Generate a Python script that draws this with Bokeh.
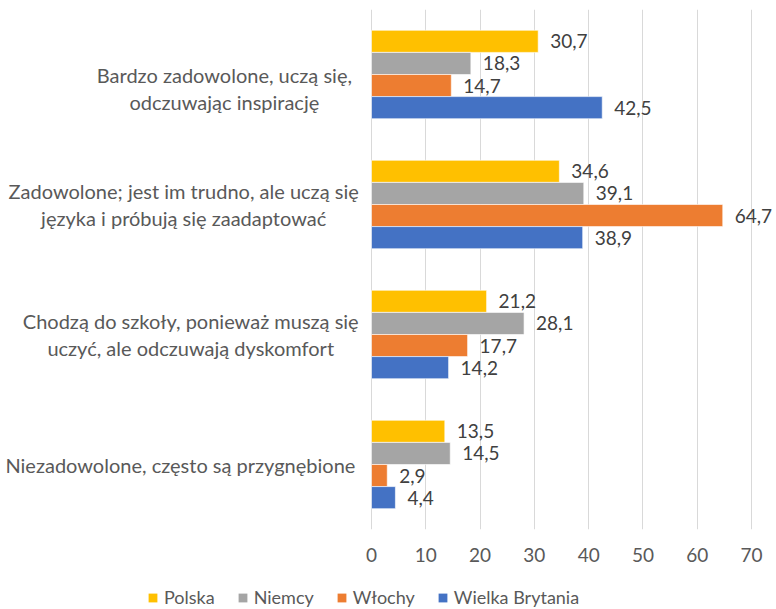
from bokeh.plotting import figure
from bokeh.layouts import column
from bokeh.models import ColumnDataSource, Legend, LegendItem, FixedTicker
from bokeh.core.properties import value
from bokeh.embed import file_html
from bokeh.resources import INLINE

categories = [
    "Bardzo zadowolone, uczą się,\nodczuwając inspirację",
    "Zadowolone; jest im trudno, ale uczą się\njęzyka i próbują się zaadaptować",
    "Chodzą do szkoły, ponieważ muszą się\nuczyć, ale odczuwają dyskomfort",
    "Niezadowolone, często są przygnębione",
]
series = ["Polska", "Niemcy", "Włochy", "Wielka Brytania"]
colors = ["#FFC000", "#A5A5A5", "#ED7D31", "#4472C4"]
polska = [30.7, 34.6, 21.2, 13.5]
niemcy = [18.3, 39.1, 28.1, 14.5]
wlochy = [14.7, 64.7, 17.7, 2.9]
wielka_brytania = [42.5, 38.9, 14.2, 4.4]
x_ticks = [0, 10, 20, 30, 40, 50, 60, 70]

values = [polska, niemcy, wlochy, wielka_brytania]
FONT = "Lato"
TXT = "#595959"

W = 776
p = figure(width=W, height=566, output_backend="svg", toolbar_location=None,
           x_range=(-68.34, 74.6), y_range=(-0.5, 3.5), y_axis_location=None,
           min_border_left=0, min_border_right=0, min_border_top=9,
           min_border_bottom=37)
p.outline_line_color = None
p.background_fill_color = "white"

n = len(categories)
ypos = [n - 1 - i for i in range(n)]
bar_h = 0.17
offsets = [0.255, 0.085, -0.085, -0.255]

for s, vals, col, off in zip(series, values, colors, offsets):
    src = ColumnDataSource(dict(
        y=[y + off for y in ypos],
        v=vals,
        lab=[f"{v:.1f}".replace(".", ",") for v in vals],
    ))
    p.hbar(y="y", right="v", left=0, height=bar_h, source=src,
           fill_color=col, line_color="white", line_width=0.6)
    p.text(x="v", y="y", text="lab", source=src, x_offset=12,
           text_baseline="middle", text_align="left",
           text_font=value(FONT), text_font_size="19px", text_color="#404040")

# category labels (centered blocks to the left of the bars)
label_x = [-27.1, -34.6, -33.3, -35.2]
label_dy = [-0.108, 0.0, 0.0, 0.0]
cat_src = ColumnDataSource(dict(x=label_x, y=[y + d for y, d in zip(ypos, label_dy)],
                                t=categories))
p.text(x="x", y="y", text="t", source=cat_src, text_align="center",
       text_baseline="middle", text_font=value(FONT), text_font_size="20px",
       text_color=TXT, text_line_height=1.1)

p.xaxis.ticker = FixedTicker(ticks=x_ticks)
p.xaxis.axis_line_color = None
p.xaxis.major_tick_line_color = None
p.xaxis.minor_tick_line_color = None
p.xaxis.major_label_text_font = FONT
p.xaxis.major_label_text_font_size = "19px"
p.xaxis.major_label_text_color = TXT
p.xaxis.major_label_standoff = 12
p.xgrid.grid_line_color = "#D9D9D9"
p.xgrid.ticker = FixedTicker(ticks=x_ticks)
p.ygrid.grid_line_color = None

# legend in its own strip below the chart
lg = figure(width=W, height=43, output_backend="svg", toolbar_location=None,
            x_range=(0, 1), y_range=(0, 1),
            x_axis_location=None, y_axis_location=None,
            min_border_left=0, min_border_right=0, min_border_top=0,
            min_border_bottom=0)
lg.outline_line_color = None
lg.xgrid.grid_line_color = None
lg.ygrid.grid_line_color = None
items = []
for s, col in zip(series, colors):
    r = lg.hbar(y=[-50], left=[-60], right=[-50], height=0.1,
                fill_color=col, line_color=None)
    items.append(LegendItem(label=s, renderers=[r]))
legend = Legend(items=items, orientation="horizontal", location=(147, 1),
                label_text_font=FONT, label_text_font_size="18px",
                label_text_color=TXT, glyph_width=11, glyph_height=11,
                label_standoff=6, spacing=22, padding=2, margin=0,
                border_line_color=None, background_fill_alpha=0)
lg.add_layout(legend)

layout = column(p, lg, spacing=0)
open("out.html", "w").write(file_html(layout, INLINE))
